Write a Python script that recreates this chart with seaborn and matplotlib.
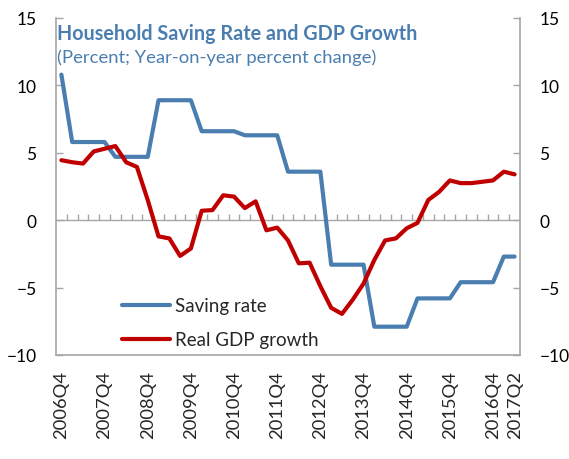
import numpy as np
import pandas as pd
import matplotlib
matplotlib.use('Agg')
import matplotlib.pyplot as plt
import seaborn as sns

sns.set_theme(style='white')
plt.rcParams['font.family'] = ['Lato', 'DejaVu Sans']

# quarters 2006Q4 .. 2017Q2
quarters = ['2006Q4'] + [f'{y}Q{q}' for y in range(2007, 2017) for q in (1, 2, 3, 4)] + ['2017Q1', '2017Q2']
tick_labels = ['2006Q4', '2007Q4', '2008Q4', '2009Q4', '2010Q4', '2011Q4',
               '2012Q4', '2013Q4', '2014Q4', '2015Q4', '2016Q4', '2017Q2']

saving_rate = [10.8,
               5.8, 5.8, 5.8, 5.8,
               4.7, 4.7, 4.7, 4.7,
               8.9, 8.9, 8.9, 8.9,
               6.6, 6.6, 6.6, 6.6,
               6.3, 6.3, 6.3, 6.3,
               3.6, 3.6, 3.6, 3.6,
               -3.3, -3.3, -3.3, -3.3,
               -7.9, -7.9, -7.9, -7.9,
               -5.8, -5.8, -5.8, -5.8,
               -4.6, -4.6, -4.6, -4.6,
               -2.7, -2.7]

gdp_growth = [4.45, 4.3, 4.2, 5.1, 5.3, 5.5, 4.3, 3.95, 1.5, -1.2,
              -1.35, -2.65, -2.1, 0.7, 0.75, 1.85, 1.75, 0.9, 1.4, -0.75,
              -0.55, -1.5, -3.2, -3.15, -4.9, -6.5, -6.95, -5.9, -4.7, -2.95,
              -1.5, -1.35, -0.6, -0.2, 1.5, 2.1, 2.95, 2.75, 2.75, 2.85,
              2.95, 3.6, 3.4]

BLUE = '#4a7eb0'
RED = '#c00000'
GRAY = '#a6a6a6'

n = len(quarters)
idx = np.arange(n)
df = pd.DataFrame({
    'x': np.concatenate([idx, idx]),
    'value': saving_rate + gdp_growth,
    'series': ['Saving rate'] * n + ['Real GDP growth'] * n,
})

fig = plt.figure(figsize=(5.69, 4.6), dpi=100)
ax = fig.add_axes([56 / 569, 1 - 356 / 460, 464 / 569, 337 / 460])

sns.lineplot(data=df, x='x', y='value', hue='series',
             palette={'Saving rate': BLUE, 'Real GDP growth': RED},
             linewidth=3, ax=ax, sort=False)

ax.set_xlim(-0.5, n - 0.5)
ax.set_ylim(-10, 15)
ax.set_xlabel('')
ax.set_ylabel('')

# zero line with small category ticks
ax.axhline(0, color=GRAY, lw=1, zorder=1)
ax.vlines(np.arange(0.5, n - 1), 0, 0.45, color=GRAY, lw=1, zorder=1)

for side in ['left', 'right', 'bottom']:
    ax.spines[side].set_color(GRAY)
    ax.spines[side].set_linewidth(1.2)
ax.spines['top'].set_visible(False)

ax.set_yticks([-10, -5, 0, 5, 10, 15])
ax.tick_params(axis='y', which='both', direction='in', length=5, width=1, color=GRAY,
               left=True, right=True, labelleft=True, labelright=True,
               labelsize=12.5, labelcolor='black', pad=14)
tick_pos = [quarters.index(t) for t in tick_labels]
ax.set_xticks(tick_pos)
ax.set_xticklabels(tick_labels, rotation=90, fontsize=13.2)
ax.tick_params(axis='x', length=0, pad=11)

ax.text(0.003, 0.986, 'Household Saving Rate and GDP Growth', transform=ax.transAxes,
        ha='left', va='top', fontsize=14.2, fontweight='bold', color=BLUE)
ax.text(0.003, 0.91, '(Percent; Year-on-year percent change)', transform=ax.transAxes,
        ha='left', va='top', fontsize=13.3, color=BLUE)

handles, labels = ax.get_legend_handles_labels()
ax.legend(handles, labels, loc='lower left', bbox_to_anchor=(0.142, 0.02),
          frameon=False, fontsize=13.5, handlelength=2.56, handletextpad=0.27,
          labelspacing=0.9, borderpad=0, borderaxespad=0)

fig.savefig('out.png', dpi=100)
